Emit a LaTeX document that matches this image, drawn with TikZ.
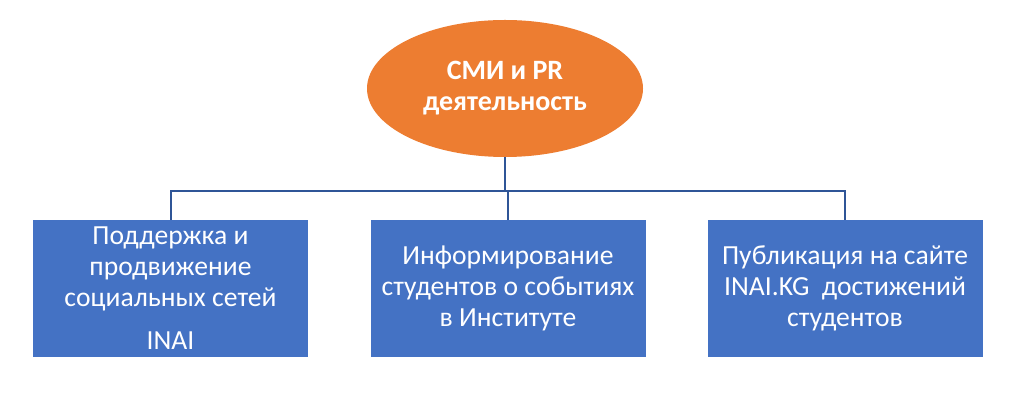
\documentclass[tikz,border=0pt]{standalone}
\usepackage{fontspec}
\setmainfont{Carlito}
\usetikzlibrary{shapes.geometric}
\definecolor{orangeF}{HTML}{ED7D31}
\definecolor{blueF}{HTML}{4472C4}
\definecolor{lineC}{HTML}{2F5597}
\tikzset{
  boxstyle/.style={rectangle, fill=blueF, text=white, minimum width=206.25pt, minimum height=102.75pt, inner sep=0pt, align=center, font=\fontsize{20.7}{23.25}\selectfont},
  ellstyle/.style={ellipse, fill=orangeF, text=white, minimum width=207pt, minimum height=102.75pt, inner sep=0pt, align=center, font=\bfseries\fontsize{21}{23.25}\selectfont},
  conn/.style={draw=lineC, line width=1.5pt}
}
\begin{document}
\begin{tikzpicture}[x=0.75pt,y=-0.75pt]
\useasboundingbox (0,0) rectangle (1021,409);
\node[ellstyle] (top) at (505,88.5) {СМИ и PR\\деятельность};
\node[boxstyle] (b1) at (170.5,288.5) {Поддержка и\\продвижение\\социальных сетей\\[9pt]INAI};
\node[boxstyle] (b2) at (508,288.5) {Информирование\\студентов о событиях\\в Институте};
\node[boxstyle] (b3) at (845,288.5) {Публикация на сайте\\INAI.KG\ \ достижений\\студентов};
\coordinate (bus) at (505,191);
\draw[conn] (top.south) -- (bus);
\draw[conn] (b1.north) -- (b1.north |- bus) -- (b3.north |- bus) -- (b3.north);
\draw[conn] (b2.north) -- (b2.north |- bus);
\end{tikzpicture}
\end{document}
